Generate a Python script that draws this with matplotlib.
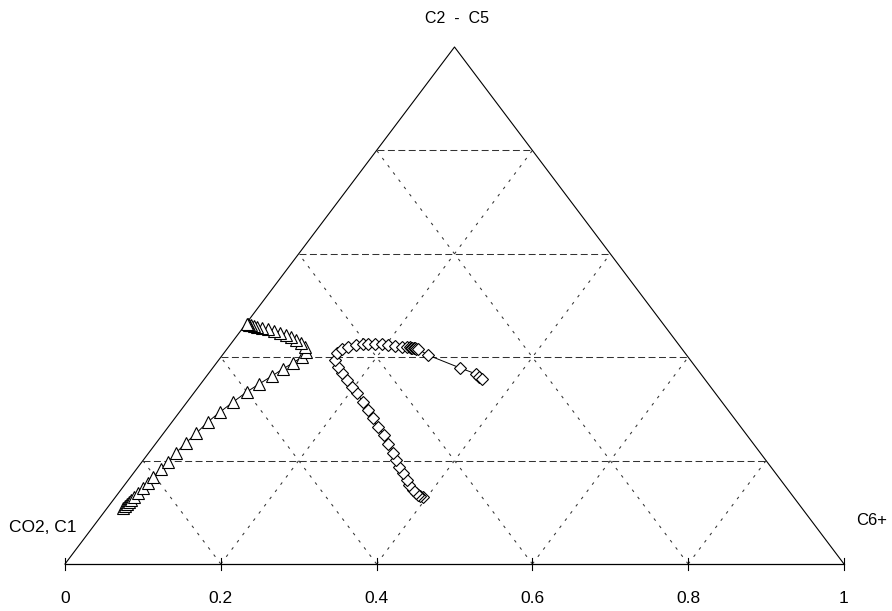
import matplotlib
matplotlib.use("Agg")
import matplotlib.pyplot as plt
import numpy as np

plt.rcParams['font.family'] = ['Liberation Sans', 'DejaVu Sans']
plt.rcParams['lines.scale_dashes'] = False

# compositions: fraction of C2-C5 and of C6+
# (CO2,C1 is the rest)
tri_c25 = [0.108, 0.112, 0.116, 0.120, 0.124, 0.130, 0.137, 0.147, 0.157, 0.168,
           0.184, 0.197, 0.215, 0.234, 0.253, 0.275, 0.294, 0.313, 0.333, 0.348,
           0.364, 0.377, 0.389, 0.400, 0.410, 0.420, 0.428, 0.433, 0.439, 0.443,
           0.447, 0.451, 0.455, 0.457, 0.458, 0.460, 0.462, 0.463, 0.464, 0.464]
tri_c6 = [0.020, 0.021, 0.022, 0.022, 0.023, 0.024, 0.025, 0.027, 0.028, 0.029,
          0.031, 0.034, 0.035, 0.038, 0.042, 0.046, 0.052, 0.059, 0.067, 0.075,
          0.084, 0.091, 0.098, 0.104, 0.104, 0.098, 0.089, 0.080, 0.071, 0.062,
          0.053, 0.043, 0.033, 0.025, 0.018, 0.012, 0.008, 0.005, 0.003, 0.002]

dia_c25 = [0.130, 0.132, 0.134, 0.137, 0.143, 0.153, 0.163, 0.176, 0.188, 0.201,
           0.215, 0.232, 0.250, 0.265, 0.282, 0.298, 0.313, 0.331, 0.342, 0.356,
           0.369, 0.381, 0.395, 0.408, 0.416, 0.420, 0.424, 0.426, 0.426, 0.426,
           0.426, 0.424, 0.422, 0.420, 0.420, 0.419, 0.418, 0.418, 0.417, 0.417,
           0.416, 0.416, 0.404, 0.379, 0.368, 0.362, 0.358]
dia_c6 = [0.394, 0.390, 0.386, 0.382, 0.375, 0.365, 0.357, 0.346, 0.335, 0.324,
          0.314, 0.299, 0.284, 0.269, 0.254, 0.240, 0.226, 0.209, 0.197, 0.184,
          0.171, 0.160, 0.149, 0.145, 0.148, 0.153, 0.161, 0.169, 0.176, 0.185,
          0.194, 0.203, 0.213, 0.223, 0.229, 0.233, 0.235, 0.237, 0.239, 0.241,
          0.243, 0.245, 0.264, 0.318, 0.343, 0.351, 0.356]

ticks = [0, 0.2, 0.4, 0.6, 0.8, 1]
tick_labels = ['0', '0.2', '0.4', '0.6', '0.8', '1']


def to_xy(c25, c6):
    c25 = np.asarray(c25)
    c6 = np.asarray(c6)
    return c6 + c25 / 2, c25


fig = plt.figure(figsize=(8.92, 6.11), dpi=100)
ax = fig.add_axes([0, 0, 1, 1])
ax.set_xlim(-65 / 779, 827 / 779)
ax.set_ylim(-47 / 517, 564 / 517)
ax.axis('off')

# triangle frame
ax.plot([0, 0.5, 1], [0, 1, 0], color='k', lw=0.8)
ax.plot([0, 1], [0, 0], color='k', lw=0.9)

# grid
for k in [0.2, 0.4, 0.6, 0.8]:
    ax.plot([k / 2, 1 - k / 2], [k, k], color='#333333', lw=0.75,
            linestyle=(0, (5, 2.5)))
    ax.plot([k, (1 + k) / 2], [0, 1 - k], color='#333333', lw=0.75,
            linestyle=(0, (2, 4.5)))
    ax.plot([k, k / 2], [0, k], color='#333333', lw=0.75,
            linestyle=(0, (2, 4.5)))

for t, lab in zip(ticks, tick_labels):
    ax.plot([t, t], [-0.012, 0.012], color='k', lw=0.8)
    ax.text(t, -0.066, lab, ha='center', va='center', fontsize=12.5)

x, y = to_xy(tri_c25, tri_c6)
ax.plot(x, y, color='k', lw=0.7, marker='^', ms=8.5, mfc='white', mec='k',
        mew=0.8)
x, y = to_xy(dia_c25, dia_c6)
ax.plot(x, y, color='k', lw=0.7, marker='D', ms=6.5, mfc='white', mec='k',
        mew=0.8)

ax.text(0.503, 1.056, 'C2  -  C5', ha='center', va='center', fontsize=11.5)
ax.text(0.015, 0.071, 'CO2, C1', ha='right', va='center', fontsize=12.5)
ax.text(1.016, 0.084, 'C6+', ha='left', va='center', fontsize=12)

plt.savefig('out.png', dpi=100)
